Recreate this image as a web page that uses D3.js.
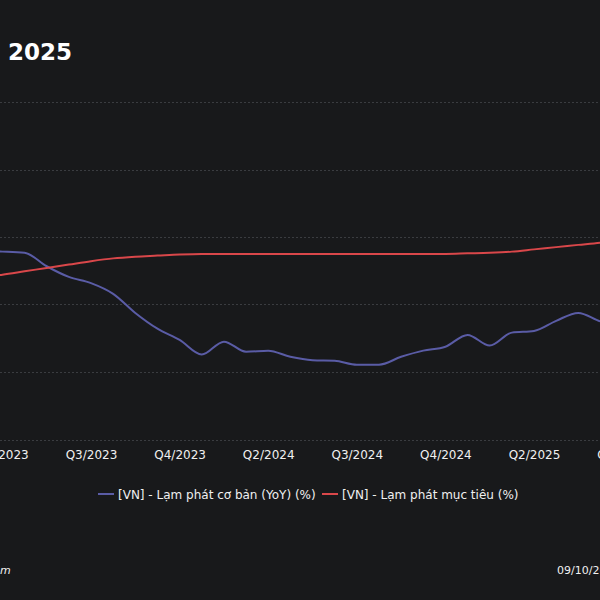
<!DOCTYPE html>
<html>
<head>
<meta charset="utf-8">
<script src="https://cdn.jsdelivr.net/npm/d3@7/dist/d3.min.js"></script>
<style>
  html, body { margin: 0; padding: 0; background: #18191b; overflow: hidden; }
  svg { display: block; }
</style>
</head>
<body>
<svg id="chart" width="600" height="600"></svg>
<script>
// ---- Data (monthly) ----
const months = [
  "2023-03","2023-04","2023-05","2023-06","2023-07","2023-08","2023-09","2023-10","2023-11","2023-12",
  "2024-01","2024-02","2024-03","2024-04","2024-05","2024-06","2024-07","2024-08","2024-09","2024-10","2024-11","2024-12",
  "2025-01","2025-02","2025-03","2025-04","2025-05","2025-06","2025-07","2025-08"
];
const coreInflation = [
  4.55, 4.54, 4.52, 4.28, 4.09, 3.98, 3.79, 3.45, 3.17, 2.97,
  2.71, 2.94, 2.76, 2.78, 2.67, 2.61, 2.60, 2.53, 2.53, 2.67, 2.78, 2.85,
  3.06, 2.87, 3.10, 3.13, 3.31, 3.45, 3.30, 3.24
];
const targetInflation = [
  4.06, 4.13, 4.19, 4.25, 4.31, 4.37, 4.42, 4.45, 4.47, 4.49,
  4.50, 4.50, 4.50, 4.50, 4.50, 4.50, 4.50, 4.50, 4.50, 4.50, 4.50, 4.50,
  4.51, 4.52, 4.54, 4.58, 4.62, 4.66, 4.70, 4.75
];
const yTicks = [1.2, 2.4, 3.6, 4.8, 6.0, 7.2];
const seriesNames = ["[VN] - Lạm phát cơ bản (YoY) (%)", "[VN] - Lạm phát mục tiêu (%)"];
const titleText = "2025";
const sourceText = "m";
const dateText = "09/10/2025";

// ---- Layout ----
const svg = d3.select("#chart");
const W = 600, H = 600;
const colors = ["#5a5ca6", "#d9474a"];
const textColor = "#f0f0f0";

svg.append("rect").attr("width", W).attr("height", H).attr("fill", "#18191b");

const step = 22.15;
const x = d3.scalePoint()
  .domain(months)
  .range([-19.75, -19.75 + step * (months.length - 1)]);

const y = d3.scaleLinear().domain([1.2, 7.2]).range([439.5, 102]);

// gridlines
svg.append("g").selectAll("line").data(yTicks).join("line")
  .attr("x1", 0).attr("x2", W)
  .attr("y1", d => Math.round(y(d)) + 0.5).attr("y2", d => Math.round(y(d)) + 0.5)
  .attr("stroke", "#3a3c40").attr("stroke-width", 1)
  .attr("stroke-dasharray", "2,2");

// x axis
const tickMonths = months.filter((m, i) => (i - 1) % 4 === 0 && i >= 1);
const quarterLabel = m => {
  const [yy, mm] = m.split("-").map(Number);
  return "Q" + Math.ceil(mm / 3) + "/" + yy;
};
const xAxis = d3.axisBottom(x).tickValues(tickMonths).tickFormat(quarterLabel).tickSize(0).tickPadding(10);
const gx = svg.append("g").attr("transform", "translate(0,440)").call(xAxis);
gx.select(".domain").remove();
gx.selectAll("text")
  .attr("fill", textColor)
  .style("font-family", "'DejaVu Sans', sans-serif")
  .style("font-size", "12px");

// lines
const line = d3.line().x((d, i) => x(months[i])).y(d => y(d)).curve(d3.curveMonotoneX);
[coreInflation, targetInflation].forEach((vals, k) => {
  svg.append("path")
    .datum(vals)
    .attr("fill", "none")
    .attr("stroke", colors[k])
    .attr("stroke-width", 2)
    .attr("stroke-linejoin", "round")
    .attr("d", line);
});

// title
svg.append("text")
  .attr("x", 8).attr("y", 60)
  .attr("fill", "#ffffff")
  .style("font-family", "'DejaVu Sans', sans-serif")
  .style("font-weight", "bold")
  .style("font-size", "23px")
  .text(titleText);

// legend
const legend = svg.append("g").attr("transform", "translate(0,494)");
const legendItems = [{x: 98, name: seriesNames[0], c: colors[0]}, {x: 322, name: seriesNames[1], c: colors[1]}];
legendItems.forEach(it => {
  legend.append("line")
    .attr("x1", it.x).attr("x2", it.x + 16).attr("y1", 0).attr("y2", 0)
    .attr("stroke", it.c).attr("stroke-width", 2);
  legend.append("text")
    .attr("x", it.x + 20).attr("y", 4.5)
    .attr("fill", textColor)
    .style("font-family", "'DejaVu Sans', sans-serif")
    .style("font-size", "12px")
    .text(it.name);
});

// footer
svg.append("text")
  .attr("x", 0).attr("y", 574)
  .attr("fill", textColor)
  .style("font-family", "'DejaVu Sans', sans-serif")
  .style("font-style", "italic")
  .style("font-size", "11px")
  .text(sourceText);
svg.append("text")
  .attr("x", 557).attr("y", 574)
  .attr("fill", textColor)
  .style("font-family", "'DejaVu Sans', sans-serif")
  .style("font-size", "11px")
  .text(dateText);
</script>
</body>
</html>
